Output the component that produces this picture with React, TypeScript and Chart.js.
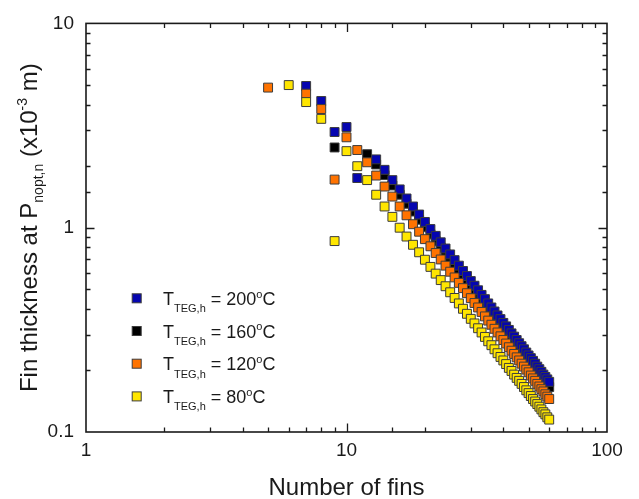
import React, { useEffect, useRef } from 'react';
import { Chart, registerables } from 'chart.js';

Chart.register(...registerables);

// ---------------- data ----------------
const fins = [
  5, 6, 7, 8, 9, 10, 11, 12, 13, 14, 15, 16, 17, 18, 19, 20, 21, 22, 23, 24, 25, 26, 27, 28, 29, 30,
  31, 32, 33, 34, 35, 36, 37, 38, 39, 40, 41, 42, 43, 44, 45, 46, 47, 48, 49, 50, 51, 52, 53, 54, 55,
  56, 57, 58, 59, 60,
];

const t200 = [
  null, null, 4.94, 4.17, 2.94, 3.11, 1.75, null, 2.16, 1.92, 1.71, 1.54, 1.39, 1.27, 1.16, 1.067,
  0.985, 0.912, 0.848, 0.791, 0.74, 0.694, 0.652, 0.614, 0.58, 0.548, 0.52, 0.494, 0.469, 0.447, 0.426,
  0.407, 0.389, 0.372, 0.357, 0.342, 0.329, 0.316, 0.304, 0.293, 0.282, 0.272, 0.263, 0.254, 0.245,
  0.237, 0.23, 0.223, 0.216, 0.209, 0.203, 0.197, 0.191, 0.186, 0.181, 0.176,
];

const t160 = [
  null, null, null, null, 2.47, null, null, 2.29, 2.04, 1.81, 1.61, 1.45, 1.31, 1.2, 1.094, 1.006,
  0.929, 0.86, 0.8, 0.746, 0.698, 0.654, 0.615, 0.579, 0.547, 0.517, 0.49, 0.465, 0.443, 0.421, 0.402,
  0.384, 0.367, 0.351, 0.336, 0.323, 0.31, 0.298, 0.287, 0.276, 0.266, 0.257, 0.248, 0.239, 0.231,
  0.224, 0.217, 0.21, 0.204, 0.197, 0.191, 0.186, 0.181, 0.175, 0.171, 0.166,
];

const t120 = [
  4.85, null, 4.53, 3.81, 1.72, 2.77, 2.4, 2.09, 1.8, 1.59, 1.42, 1.27, 1.15, 1.04, 0.956, 0.879,
  0.811, 0.752, 0.699, 0.652, 0.609, 0.571, 0.537, 0.506, 0.478, 0.452, 0.428, 0.407, 0.387, 0.368,
  0.351, 0.335, 0.32, 0.307, 0.294, 0.282, 0.271, 0.26, 0.25, 0.241, 0.232, 0.224, 0.216, 0.209, 0.202,
  0.196, 0.189, 0.183, 0.178, 0.172, 0.167, 0.162, 0.158, 0.153, 0.149, 0.145,
];

const t80 = [
  null, 4.99, 4.12, 3.41, 0.86, 2.37, 2.0, 1.71, 1.45, 1.27, 1.13, 1.0, 0.905, 0.825, 0.758, 0.697,
  0.643, 0.596, 0.554, 0.517, 0.483, 0.453, 0.426, 0.401, 0.379, 0.358, 0.34, 0.322, 0.307, 0.292,
  0.278, 0.266, 0.254, 0.243, 0.233, 0.224, 0.215, 0.206, 0.199, 0.191, 0.184, 0.178, 0.172, 0.166,
  0.16, 0.155, 0.15, 0.145, 0.141, 0.137, 0.133, 0.129, 0.125, 0.122, 0.118, 0.115,
];

const seriesTemps = ['200', '160', '120', '80'];
const xTickLabels = ['1', '10', '100'];
const yTickLabels = ['0.1', '1', '10'];
const xTitle = 'Number of fins';

// ---------------- styles ----------------
const FONT = '"Liberation Sans", Arial, Helvetica, sans-serif';
const COLORS = ['#0505B0', '#000000', '#FF7300', '#FFE600'];
const ORDERS = [2, 3, 1, 0];
const INK = '#1a1a1a';

type Seg = { t: string; size: number; dy: number };

function segWidth(ctx: CanvasRenderingContext2D, segs: Seg[]) {
  let w = 0;
  for (const s of segs) {
    ctx.font = `${s.size}px ${FONT}`;
    w += ctx.measureText(s.t).width;
  }
  return w;
}

function drawSegs(ctx: CanvasRenderingContext2D, segs: Seg[], x: number, y: number) {
  for (const s of segs) {
    ctx.font = `${s.size}px ${FONT}`;
    ctx.fillText(s.t, x, y + s.dy);
    x += ctx.measureText(s.t).width;
  }
  return x;
}

const isMajor = (v: number) => {
  const l = Math.log10(v);
  return Math.abs(l - Math.round(l)) < 1e-6;
};

const fmt = (v: number, labels: string[]) => {
  if (!isMajor(v)) return '';
  const s = labels.find((l) => Math.abs(parseFloat(l) - v) < 1e-9);
  return s ?? '';
};

const decor = {
  id: 'decor',
  afterDraw(chart: any) {
    const ctx: CanvasRenderingContext2D = chart.ctx;
    const { left, right, top, bottom } = chart.chartArea;
    const xs = chart.scales.x;
    const ys = chart.scales.y;
    ctx.save();
    // frame
    ctx.strokeStyle = INK;
    ctx.lineWidth = 1.6;
    ctx.strokeRect(left, top, right - left, bottom - top);
    // ticks (inward, all sides)
    ctx.lineWidth = 1.3;
    ctx.beginPath();
    xs.ticks.forEach((t: any) => {
      const len = isMajor(t.value) ? 8.5 : 4.5;
      const px = Math.round(xs.getPixelForValue(t.value)) + 0.5;
      if (px <= left + 1 || px >= right - 1) return;
      ctx.moveTo(px, bottom);
      ctx.lineTo(px, bottom - len);
      ctx.moveTo(px, top);
      ctx.lineTo(px, top + len);
    });
    ys.ticks.forEach((t: any) => {
      const len = isMajor(t.value) ? 8.5 : 4.5;
      const py = Math.round(ys.getPixelForValue(t.value)) + 0.5;
      if (py <= top + 1 || py >= bottom - 1) return;
      ctx.moveTo(left, py);
      ctx.lineTo(left + len, py);
      ctx.moveTo(right, py);
      ctx.lineTo(right - len, py);
    });
    ctx.stroke();

    // x title
    ctx.fillStyle = INK;
    ctx.textBaseline = 'alphabetic';
    ctx.textAlign = 'left';
    ctx.font = `24px ${FONT}`;
    const xw = ctx.measureText(xTitle).width;
    ctx.fillText(xTitle, (left + right) / 2 - xw / 2, 495);

    // y title (rotated)
    const ySegs: Seg[] = [
      { t: 'Fin thickness at P', size: 24, dy: 0 },
      { t: 'nopt,n', size: 14, dy: 6 },
      { t: ' (x10', size: 24, dy: 0 },
      { t: '-3', size: 14, dy: -10 },
      { t: ' m)', size: 24, dy: 0 },
    ];
    const yw = segWidth(ctx, ySegs);
    ctx.save();
    ctx.translate(37, (top + bottom) / 2);
    ctx.rotate(-Math.PI / 2);
    drawSegs(ctx, ySegs, -yw / 2, 0);
    ctx.restore();

    // legend
    const mx = 136.7;
    const y0 = 298.3;
    const dyRow = 32.7;
    seriesTemps.forEach((temp, i) => {
      const cy = y0 + i * dyRow;
      ctx.fillStyle = COLORS[i];
      ctx.fillRect(mx - 4.5, cy - 4.5, 9, 9);
      ctx.strokeStyle = '#3c3c3c';
      ctx.lineWidth = 1;
      ctx.strokeRect(mx - 4.5, cy - 4.5, 9, 9);
      ctx.fillStyle = INK;
      const segs: Seg[] = [
        { t: 'T', size: 18, dy: 0 },
        { t: 'TEG,h', size: 11, dy: 7.3 },
        { t: ' = ' + temp, size: 18, dy: 0 },
        { t: 'o', size: 11, dy: -7.5 },
        { t: 'C', size: 18, dy: 0 },
      ];
      drawSegs(ctx, segs, 163, cy + 6.7);
    });
    ctx.restore();
  },
};

const build = (vals: (number | null)[]) =>
  fins
    .map((n, i) => ({ x: n, y: vals[i] }))
    .filter((p) => p.y !== null) as { x: number; y: number }[];

export default function App() {
  const ref = useRef<HTMLCanvasElement>(null);
  useEffect(() => {
    const all = [t200, t160, t120, t80];
    const chart = new Chart(ref.current as HTMLCanvasElement, {
      type: 'scatter',
      data: {
        datasets: all.map((vals, i) => ({
          label: seriesTemps[i],
          data: build(vals),
          order: ORDERS[i],
          pointStyle: 'rect',
          pointRadius: 6.3,
          pointHoverRadius: 6.3,
          borderWidth: 1,
          borderColor: '#3c3c3c',
          backgroundColor: COLORS[i],
          showLine: false,
        })),
      },
      options: {
        responsive: false,
        animation: false,
        devicePixelRatio: 1,
        layout: { padding: { top: 22, right: 32, left: 0, bottom: 0 } },
        plugins: { legend: { display: false }, tooltip: { enabled: false } },
        events: [],
        scales: {
          x: {
            type: 'logarithmic',
            min: 1,
            max: 100,
            position: 'bottom',
            grid: { display: false, drawTicks: false },
            border: { display: false },
            ticks: {
              autoSkip: false,
              maxRotation: 0,
              padding: 7,
              color: INK,
              font: { family: FONT, size: 19 },
              callback: (v: any) => fmt(Number(v), xTickLabels),
            },
            afterFit: (s: any) => {
              s.height = 67;
            },
          },
          y: {
            type: 'logarithmic',
            min: 0.1,
            max: 10,
            position: 'left',
            grid: { display: false, drawTicks: false },
            border: { display: false },
            ticks: {
              autoSkip: false,
              padding: 12,
              color: INK,
              font: { family: FONT, size: 19 },
              callback: (v: any) => fmt(Number(v), yTickLabels),
            },
            afterFit: (s: any) => {
              s.width = 86;
            },
          },
        },
      } as any,
      plugins: [decor],
    });
    return () => chart.destroy();
  }, []);
  return (
    <div style={{ position: 'absolute', left: 0, top: 0, width: 639, height: 499, background: '#fff' }}>
      <canvas ref={ref} width={639} height={499} style={{ display: 'block' }} />
    </div>
  );
}
